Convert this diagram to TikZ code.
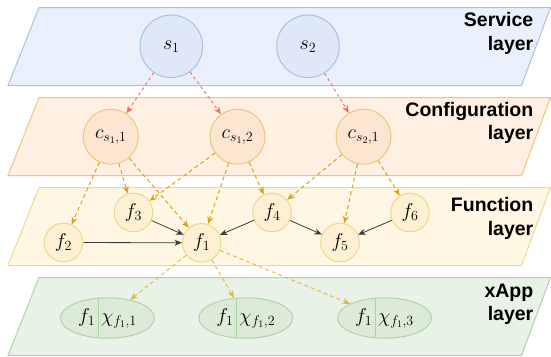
\RequirePackage{fix-cm}
\documentclass[tikz,border=0pt]{standalone}
\usepackage{fontspec}
\newfontfamily\layerfont{Liberation Sans}
\usetikzlibrary{arrows.meta, shapes.geometric}

\definecolor{svcfill}{HTML}{E9F0FB}
\definecolor{svcnode}{HTML}{DEE8F8}
\definecolor{svcline}{HTML}{A9C0E3}
\definecolor{cfgfill}{HTML}{FFF0E3}
\definecolor{cfgnode}{HTML}{FDE6D1}
\definecolor{cfgline}{HTML}{EFC774}
\definecolor{fnfill}{HTML}{FFF7E3}
\definecolor{fnnode}{HTML}{FDF0D3}
\definecolor{fnline}{HTML}{EFD78E}
\definecolor{appfill}{HTML}{E8F2E6}
\definecolor{appnode}{HTML}{DCEBD8}
\definecolor{appline}{HTML}{AED4A6}
\definecolor{svcarrow}{HTML}{EE6B6B}
\definecolor{cfgarrow}{HTML}{DBA31C}
\definecolor{apparrow}{HTML}{E2B54A}
\definecolor{fnarrow}{HTML}{3A3A3A}

\begin{document}
\begin{tikzpicture}[
    x=1pt, y=-1pt,
    >={Stealth[length=7.5pt, width=6pt]},
    layer/.style={line width=1pt},
    layerlabel/.style={anchor=north east, align=right, inner sep=0pt,
                       font=\layerfont\bfseries\fontsize{19.5}{23.3}\selectfont},
    vertex/.style={circle, line width=1pt, inner sep=0pt,
                   font=\fontsize{20}{24}\selectfont},
    svc/.style={vertex, draw=svcline, fill=svcnode, minimum size=62.5pt},
    cfg/.style={vertex, draw=cfgline, fill=cfgnode, minimum size=55pt},
    fn/.style={vertex, draw=fnline, fill=fnnode, minimum size=38.6pt},
    app/.style={ellipse, draw=appline, fill=appnode, line width=1pt,
                inner sep=0pt, minimum width=94pt, minimum height=40.5pt,
                font=\fontsize{20}{24}\selectfont,
                path picture={\draw[appline, line width=1pt]
                  ([xshift=-9.5pt]path picture bounding box.north) --
                  ([xshift=-9.5pt]path picture bounding box.south);}},
    svcdep/.style={->, svcarrow, line width=0.9pt, dash pattern=on 3pt off 3pt},
    cfgdep/.style={->, cfgarrow, line width=1pt, dash pattern=on 4pt off 3pt},
    appdep/.style={->, apparrow, line width=0.9pt, dash pattern=on 4pt off 3pt},
    fndep/.style={->, fnarrow, line width=0.8pt}
  ]
  \useasboundingbox (0,0) rectangle (551,356);

  % the four layers, back to front
  \foreach \ytop/\lfill/\lline in {7.5/svcfill/svcline, 97.5/cfgfill/cfgline,
                                   187.5/fnfill/fnline, 277.5/appfill/appline}
    \draw[layer, fill=\lfill, draw=\lline]
      (39,\ytop) -- (550.5,\ytop) -- (521.5,\ytop+78) -- (8,\ytop+78) -- cycle;

  \node[layerlabel] (svclabel) at (533.5,12.5)  {Service\\layer};
  \node[layerlabel] (cfglabel) at (533.5,102.3) {Configuration\\layer};
  \node[layerlabel] (fnlabel)  at (533.5,197.5) {Function\\layer};
  \node[layerlabel] (applabel) at (533.5,283.5) {xApp\\layer};

  % services
  \node[svc] (s1) at (171.3,46.3) {$s_1$};
  \node[svc] (s2) at (308,46.3)   {$s_2$};

  % configurations
  \node[cfg] (c11) at (110.8,136.7) {$c_{s_1,1}$};
  \node[cfg] (c12) at (237.5,136.7) {$c_{s_1,2}$};
  \node[cfg] (c21) at (363.5,136.7) {$c_{s_2,1}$};

  % functions
  \node[fn] (f1) at (201.7,242.8) {$f_1$};
  \node[fn] (f2) at (63.5,242.5)  {$f_2$};
  \node[fn] (f3) at (133.5,212.5) {$f_3$};
  \node[fn] (f4) at (272,212.5)   {$f_4$};
  \node[fn] (f5) at (340,242.5)   {$f_5$};
  \node[fn] (f6) at (410,212.5)   {$f_6$};

  % xApps
  \node[app] (x1) at (107.5,318) {$f_1$\hspace{6pt}$\chi_{f_1,1}$};
  \node[app] (x2) at (245.8,318) {$f_1$\hspace{6pt}$\chi_{f_1,2}$};
  \node[app] (x3) at (384.5,318) {$f_1$\hspace{6pt}$\chi_{f_1,3}$};

  \draw[svcdep] (s1) -- (c11);
  \draw[svcdep] (s1) -- (c12);
  \draw[svcdep] (s2) -- (c21);

  \draw[cfgdep] (c11) -- (f2);
  \draw[cfgdep] (c11) -- (f3);
  \draw[cfgdep] (c11) -- (f1);
  \draw[cfgdep] (c12) -- (f3);
  \draw[cfgdep] (c12) -- (f1);
  \draw[cfgdep] (c12) -- (f4);
  \draw[cfgdep] (c21) -- (f4);
  \draw[cfgdep] (c21) -- (f5);
  \draw[cfgdep] (c21) -- (f6);

  \draw[fndep] (f2) -- (f1);
  \draw[fndep] (f3) -- (f1);
  \draw[fndep] (f4) -- (f1);
  \draw[fndep] (f4) -- (f5);
  \draw[fndep] (f6) -- (f5);

  \draw[appdep] (f1) -- (x1);
  \draw[appdep] (f1) -- (x2);
  \draw[appdep] (f1) -- (x3);
\end{tikzpicture}
\end{document}
